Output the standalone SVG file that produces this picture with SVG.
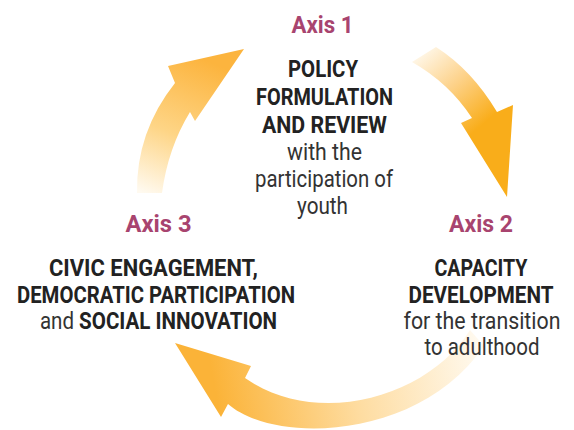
<svg xmlns="http://www.w3.org/2000/svg" width="574" height="430" viewBox="0 0 574 430">
<defs>
<linearGradient id="g1" gradientUnits="userSpaceOnUse" x1="148" y1="195" x2="205" y2="60">
<stop offset="0" stop-color="#fffaf0"/>
<stop offset="0.45" stop-color="#fed586"/>
<stop offset="1" stop-color="#fcb43e"/>
</linearGradient>
<linearGradient id="g2" gradientUnits="userSpaceOnUse" x1="418" y1="50" x2="482" y2="125">
<stop offset="0" stop-color="#fffaf0"/>
<stop offset="0.5" stop-color="#fdd28a"/>
<stop offset="1" stop-color="#f9ad1a"/>
</linearGradient>
<linearGradient id="g3" gradientUnits="userSpaceOnUse" x1="485" y1="340" x2="215" y2="390">
<stop offset="0" stop-color="#fffbf3"/>
<stop offset="0.5" stop-color="#fedca0"/>
<stop offset="1" stop-color="#fbb338"/>
</linearGradient>
<style>
text{font-family:Roboto,"Liberation Sans",sans-serif;font-size:23px;text-anchor:middle}
.ax{font-weight:700;fill:#a8446f}
.b{font-weight:700;fill:#222}
.r{font-weight:400;fill:#333}
</style>
</defs>
<g id="connectors">
<path id="arrow-1-to-2" fill="url(#g2)" d="M412,62 L436,47 Q472,70 497,112 L513,105 L507,197 L461,123 L472,118 Q449,83 412,62 Z"/>
<path id="arrow-2-to-3" fill="url(#g3)" d="M470,330 C430,395 320,430 245,378 L251,366 L175,343 L221,417 L228,404 C275,445 420,440 484,346 Z"/>
<path id="arrow-3-to-1" fill="url(#g1)" d="M137,193 Q136,132 175,83 L168,66 L244,49 L195,121 L190,112 Q168,148 162,193 Z"/>
</g>
<g id="axis1">
<text class="ax" x="322.5" y="33" textLength="62" lengthAdjust="spacingAndGlyphs">Axis 1</text>
<text class="b" x="323" y="77" textLength="70" lengthAdjust="spacingAndGlyphs">POLICY</text>
<text class="b" x="324.5" y="105" textLength="137" lengthAdjust="spacingAndGlyphs">FORMULATION</text>
<text class="b" x="324.5" y="133" textLength="125" lengthAdjust="spacingAndGlyphs">AND REVIEW</text>
<text class="r" x="324.5" y="160" textLength="75" lengthAdjust="spacingAndGlyphs">with the</text>
<text class="r" x="324" y="187" textLength="138" lengthAdjust="spacingAndGlyphs">participation of</text>
<text class="r" x="322.5" y="214" textLength="51" lengthAdjust="spacingAndGlyphs">youth</text>
</g>
<g id="axis2">
<text class="ax" x="481" y="232" textLength="64" lengthAdjust="spacingAndGlyphs">Axis 2</text>
<text class="b" x="481" y="276" textLength="93" lengthAdjust="spacingAndGlyphs">CAPACITY</text>
<text class="b" x="481" y="303" textLength="145" lengthAdjust="spacingAndGlyphs">DEVELOPMENT</text>
<text class="r" x="482" y="329" textLength="157" lengthAdjust="spacingAndGlyphs">for the transition</text>
<text class="r" x="482" y="355" textLength="115" lengthAdjust="spacingAndGlyphs">to adulthood</text>
</g>
<g id="axis3">
<text class="ax" x="158.5" y="232" textLength="66" lengthAdjust="spacingAndGlyphs">Axis 3</text>
<text class="b" x="153.5" y="276" textLength="209" lengthAdjust="spacingAndGlyphs">CIVIC ENGAGEMENT,</text>
<text class="b" x="156" y="303" textLength="278" lengthAdjust="spacingAndGlyphs">DEMOCRATIC PARTICIPATION</text>
<text transform="translate(158.5,329) scale(0.893,1)" x="0" y="0"><tspan class="r">and </tspan><tspan class="b">SOCIAL INNOVATION</tspan></text>
</g>
</svg>
